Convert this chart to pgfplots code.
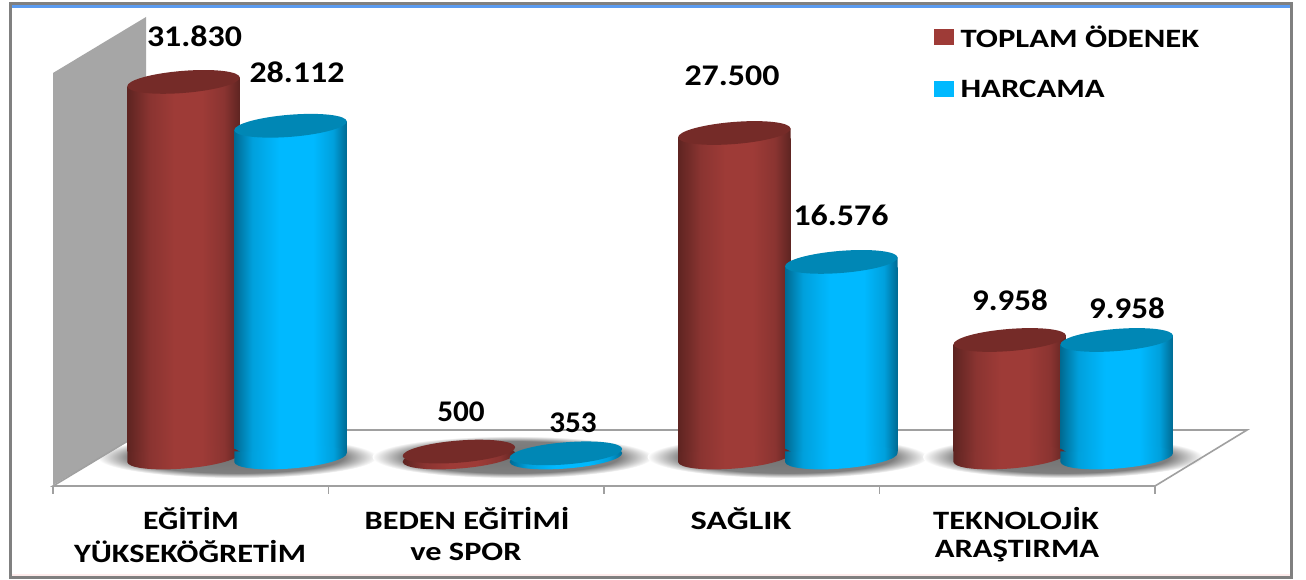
\documentclass[border=0pt]{standalone}
\usepackage{pgfplots}
\usepackage{pgfplotstable}
\usepackage{fontspec}
\setmainfont{Carlito}
\pgfplotsset{compat=1.18}
\definecolor{rE}{HTML}{5E2421}\definecolor{rM}{HTML}{8A3431}\definecolor{rC}{HTML}{9E3B37}\definecolor{rT}{HTML}{752B28}
\definecolor{bE}{HTML}{006A92}\definecolor{bM}{HTML}{00A0DC}\definecolor{bC}{HTML}{00B9FF}\definecolor{bT}{HTML}{0087B5}
\definecolor{wallc}{HTML}{A6A6A6}\definecolor{linec}{HTML}{A0A0A0}
\pgfdeclarehorizontalshading{redcyl}{100bp}{color(0bp)=(rE);color(25bp)=(rE);color(35bp)=(rM);color(46bp)=(rC);color(58bp)=(rC);color(68bp)=(rM);color(75bp)=(rE);color(100bp)=(rE)}
\pgfdeclarehorizontalshading{bluecyl}{100bp}{color(0bp)=(bE);color(25bp)=(bE);color(33bp)=(bM);color(45bp)=(bC);color(60bp)=(bC);color(69bp)=(bM);color(75bp)=(bE);color(100bp)=(bE)}
\pgfdeclareradialshading{floorshadow}{\pgfpointorigin}{color(0bp)=(black!55);color(19bp)=(black!50);color(25bp)=(white);color(50bp)=(white)}
\newcommand\tiltellipse{\pgfpathellipse{\pgfpointorigin}{\pgfpoint{56.25pt}{4.5pt}}{\pgfpoint{-0.9pt}{11pt}}}
\newcommand\declcyl[3]{%
 \pgfdeclareplotmark{#1top}{\pgfpathmoveto{\pgfpoint{-56.25pt}{-6pt}}\pgfpathlineto{\pgfpoint{-56.25pt}{-4.5pt}}\pgfpathlineto{\pgfpoint{56.25pt}{4.5pt}}\pgfpathlineto{\pgfpoint{56.25pt}{-6pt}}\pgfpathclose\pgfshadepath{#2}{0}\pgfusepath{discard}\pgfsetfillcolor{#3}\tiltellipse\pgfusepathqfill}%
 \pgfdeclareplotmark{#1cap}{\pgfsetfillcolor{#3}\tiltellipse\pgfusepathqfill}%
 \pgfdeclareplotmark{#1base}{\pgfpathmoveto{\pgfpoint{-56.25pt}{6pt}}\pgfpathlineto{\pgfpoint{-56.25pt}{-4.5pt}}\pgfpathlineto{\pgfpoint{56.25pt}{4.5pt}}\pgfpathlineto{\pgfpoint{56.25pt}{6pt}}\pgfpathclose\tiltellipse\pgfshadepath{#2}{0}\pgfusepath{discard}}%
 \pgfdeclareplotmark{#1disk}{\tiltellipse\pgfshadepath{#2}{0}\pgfusepath{discard}}%
}
\declcyl{r}{redcyl}{rT}
\declcyl{b}{bluecyl}{bT}
\pgfplotstableread{
x v
0 31830
1 500
2 27500
3 9958
}\redtab
\pgfplotstableread{
x v
0 28112
1 353
2 16576
3 9958
}\bluetab
\newcommand\valfont{\fontsize{30}{32}\selectfont\bfseries}
\newcommand\catfont{\fontsize{26.5}{30}\selectfont\bfseries}
\pgfplotsset{
 only0/.style={skip coords between index={1}{4}},
 only1/.style={skip coords between index={0}{1},skip coords between index={2}{4}},
 only2/.style={skip coords between index={0}{2},skip coords between index={3}{4}},
 only3/.style={skip coords between index={0}{3}},
 redbody/.style={forget plot,ybar,bar width=112.5pt,bar shift=-53.5pt,draw=none,shade,shading=redcyl,yshift=6pt},
 bluebody/.style={forget plot,ybar,bar width=112.5pt,bar shift=53.5pt,draw=none,shade,shading=bluecyl,yshift=6pt},
}
\begin{document}
\begin{tikzpicture}[x=1pt,y=1pt]
% decoration layer in picture coordinates
\begin{axis}[at={(0pt,0pt)},anchor=south west,scale only axis,width=1306pt,height=580pt,
  xmin=0,xmax=1306,ymin=0,ymax=580,y dir=reverse,hide axis,clip=false]
 \fill[white] (0,0) rectangle (1306,580);
 \draw[color=pink!30,line width=2pt] (12,574.5) -- (1290,574.5);
 \draw[color=black!50,line width=3pt] (10.5,3.5) -- (10.5,577.5) -- (1291.5,577.5) -- (1291.5,3.5) -- cycle;
 \draw[color={rgb,255:red,91;green,155;blue,240},line width=3pt] (12,6.8) -- (1290,6.8);
 % floor shadows
 \shade[shading=floorshadow] (237,457) ellipse [x radius=140,y radius=21];
 \shade[shading=floorshadow] (512.5,457) ellipse [x radius=140,y radius=21];
 \shade[shading=floorshadow] (787.5,457) ellipse [x radius=140,y radius=21];
 \shade[shading=floorshadow] (1063,457) ellipse [x radius=140,y radius=21];
 % walls and floor
 \fill[wallc] (53,73) -- (146,17) -- (146,431) -- (53,485) -- cycle;
 \draw[linec,line width=1.6pt] (53,486) -- (146,430) -- (1247,430) -- (1155,486) -- cycle;
 \draw[linec,line width=1.6pt] (53,486) -- (53,494);
 \draw[linec,line width=1.6pt] (328.5,486) -- (328.5,494);
 \draw[linec,line width=1.6pt] (604,486) -- (604,494);
 \draw[linec,line width=1.6pt] (879.5,486) -- (879.5,494);
 \draw[linec,line width=1.6pt] (1155,486) -- (1155,494);
 % value labels
 \node[xscale=1.13] at (194.5,36) {\valfont 31.830};
 \node[xscale=1.13] at (297,72) {\valfont 28.112};
 \node[xscale=1.04] at (461,412) {\valfont 500};
 \node[xscale=1.04] at (573,423) {\valfont 353};
 \node[xscale=1.13] at (732,76) {\valfont 27.500};
 \node[xscale=1.13] at (841,215) {\valfont 16.576};
 \node[xscale=1.10] at (1010,300) {\valfont 9.958};
 \node[xscale=1.10] at (1127,308) {\valfont 9.958};
 % category labels
 \node[xscale=1.2] at (191,519) {\catfont EĞİTİM};
 \node[xscale=1.22] at (190,552) {\catfont YÜKSEKÖĞRETİM};
 \node[xscale=1.22] at (467,519) {\catfont BEDEN EĞİTİMİ};
 \node[xscale=1.22] at (466,552) {\catfont ve SPOR};
 \node[xscale=1.3] at (741,519) {\catfont SAĞLIK};
 \node[xscale=1.23] at (1016,519) {\catfont TEKNOLOJİK};
 \node[xscale=1.23] at (1017,551) {\catfont ARAŞTIRMA};
\end{axis}
% data layer: y pixel = 457.5 - 0.0118 v, x pixel = 237 + 275.4 k
\begin{axis}[at={(0pt,0pt)},anchor=south west,scale only axis,width=1306pt,height=580pt,
  xmin=-0.86057,xmax=3.88163,ymin=-10381.4,ymax=38771.2,hide axis,clip=false,
  legend cell align=left,
  legend style={at={(rel axis cs:0.7151,0.9597)},anchor=north west,draw=none,fill=none,inner sep=0pt,
    font=\fontsize{26.5}{30}\selectfont\bfseries,row sep=27pt},
  legend image code/.code={\fill[#1] (0pt,-7.5pt) rectangle (19pt,7.5pt);},
  legend entries={{\hspace*{5pt}\scalebox{1.235}[1]{TOPLAM ÖDENEK}},{\hspace*{5pt}\scalebox{1.235}[1]{HARCAMA}}}]
 \addlegendimage{rC}
 \addlegendimage{bC}
 % red series
 \addplot[forget plot,only marks,mark=rbase,mark options={xshift=-53.5pt},skip coords between index={1}{2}] table[x=x,y expr=0] {\redtab};
 \addplot[redbody,only0] table[x=x,y expr=\thisrow{v}-1017] {\redtab};
 \addplot[redbody,only2] table[x=x,y expr=\thisrow{v}-1017] {\redtab};
 \addplot[redbody,only3] table[x=x,y expr=\thisrow{v}-1017] {\redtab};
 \addplot[forget plot,only marks,mark=rtop,mark options={xshift=-53.5pt},skip coords between index={1}{2}] table[x=x,y=v] {\redtab};
 \addplot[forget plot,only marks,mark=rdisk,mark options={xshift=-53.5pt},only1] table[x=x,y expr=0] {\redtab};
 \addplot[forget plot,only marks,mark=rcap,mark options={xshift=-53.5pt},only1] table[x=x,y=v] {\redtab};
 % blue series
 \addplot[forget plot,only marks,mark=bbase,mark options={xshift=53.5pt},skip coords between index={1}{2}] table[x=x,y expr=0] {\bluetab};
 \addplot[bluebody,only0] table[x=x,y expr=\thisrow{v}-1017] {\bluetab};
 \addplot[bluebody,only2] table[x=x,y expr=\thisrow{v}-1017] {\bluetab};
 \addplot[bluebody,only3] table[x=x,y expr=\thisrow{v}-1017] {\bluetab};
 \addplot[forget plot,only marks,mark=btop,mark options={xshift=53.5pt},skip coords between index={1}{2}] table[x=x,y=v] {\bluetab};
 \addplot[forget plot,only marks,mark=bdisk,mark options={xshift=53.5pt},only1] table[x=x,y expr=0] {\bluetab};
 \addplot[forget plot,only marks,mark=bcap,mark options={xshift=53.5pt},only1] table[x=x,y=v] {\bluetab};
\end{axis}
\end{tikzpicture}
\end{document}
